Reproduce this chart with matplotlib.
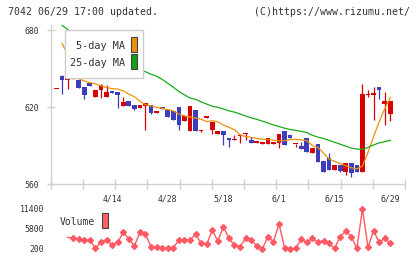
import matplotlib

matplotlib.use("Agg")
import matplotlib.pyplot as plt
import numpy as np
from matplotlib.patches import Rectangle

# daily candles, 3/31 .. 6/29 (61 trading days)
opens = [633.8, 644.4, 641.3, 648.3, 641.0, 635.3, 638.4, 628.1, 633.3, 628.1,
         632.5, 631.9, 621.0, 624.7, 621.5, 619.5, 620.8, 621.5, 615.6, 620.0,
         617.7, 616.9, 620.0, 609.1, 601.3, 617.7, 601.3, 611.4, 602.3, 599.0,
         601.3, 595.9, 594.3, 597.4, 598.7, 594.3, 592.3, 591.5, 591.2, 591.5,
         591.7, 601.3, 598.2, 590.9, 589.6, 595.9, 584.2, 591.2, 577.9, 580.3,
         570.9, 574.8, 569.6, 576.4, 574.8, 569.4, 629.5, 629.3, 635.6, 622.3,
         614.5]
highs = [634.3, 645.0, 648.3, 651.4, 641.0, 635.3, 638.4, 633.3, 637.7, 637.0,
         632.5, 631.9, 628.1, 624.7, 621.5, 621.5, 623.4, 621.5, 616.9, 620.0,
         617.7, 616.9, 620.0, 613.8, 620.8, 617.7, 601.8, 613.0, 608.3, 601.3,
         601.3, 595.9, 598.2, 598.2, 599.5, 596.6, 592.6, 591.8, 595.9, 592.5,
         599.0, 601.3, 598.2, 591.2, 592.5, 595.9, 588.1, 591.2, 577.9, 583.9,
         574.8, 574.8, 576.4, 576.4, 574.8, 637.9, 633.2, 635.6, 635.6, 631.7,
         624.7]
lows = [633.8, 630.1, 633.8, 641.8, 635.1, 626.0, 636.6, 628.1, 627.3, 628.1,
        630.6, 619.0, 621.0, 621.0, 617.4, 619.5, 602.1, 614.6, 615.6, 618.5,
        612.2, 610.1, 602.1, 609.1, 601.3, 601.3, 600.5, 611.4, 599.0, 599.0,
        590.4, 589.1, 594.3, 592.2, 594.3, 592.2, 592.3, 591.5, 591.2, 591.5,
        588.3, 590.4, 595.9, 589.1, 587.3, 585.0, 584.2, 577.1, 569.6, 570.9,
        570.9, 569.4, 567.0, 565.5, 569.4, 569.4, 627.5, 609.9, 626.2, 606.0,
        609.1]
closes = [634.3, 641.3, 648.3, 641.8, 635.1, 629.3, 636.6, 633.3, 637.1, 631.7,
          630.6, 629.3, 624.2, 621.0, 618.7, 621.5, 623.4, 615.6, 616.9, 618.5,
          612.2, 610.1, 606.0, 613.0, 620.8, 601.3, 601.8, 613.0, 608.3, 601.3,
          598.2, 594.3, 595.1, 598.2, 599.5, 592.2, 592.6, 591.8, 595.9, 591.8,
          599.0, 590.4, 595.9, 591.2, 587.3, 585.0, 588.1, 577.1, 569.6, 570.9,
          574.8, 570.1, 576.4, 568.6, 569.4, 630.1, 630.0, 630.9, 633.0, 624.7,
          624.7]

# moving averages as drawn (points 1 .. 60)
ma5 = [669.6, 661.0, 651.5, 642.0, 640.3, 639.0, 638.0, 636.5, 635.2, 634.3,
       634.0, 632.5, 630.0, 628.0, 624.5, 621.8, 620.8, 619.8, 619.0, 618.0,
       617.0, 614.5, 613.0, 612.3, 611.4, 610.5, 608.6, 609.3, 608.5, 606.0,
       604.2, 602.3, 598.4, 596.9, 596.4, 595.5, 595.0, 594.6, 594.2, 593.5,
       593.8, 594.6, 594.8, 594.3, 593.8, 590.0, 588.5, 584.0, 579.5, 577.5,
       576.0, 574.2, 572.6, 571.8, 574.0, 584.5, 597.0, 608.5, 618.5, 627.5]
ma25 = [683.5, 680.5, 677.5, 675.0, 672.5, 670.0, 667.5, 665.0, 663.0, 661.0,
        658.5, 656.0, 653.5, 651.0, 649.0, 647.5, 645.5, 644.0, 641.5, 638.5,
        635.5, 632.0, 629.5, 627.0, 626.0, 624.0, 622.3, 620.5, 619.8, 618.5,
        617.0, 616.0, 614.5, 613.0, 611.5, 610.4, 609.0, 607.5, 606.0, 604.8,
        603.5, 602.5, 601.8, 601.0, 600.0, 598.0, 596.5, 595.5, 594.0, 592.5,
        591.0, 589.5, 588.0, 587.2, 587.0, 588.5, 590.5, 592.0, 593.0, 594.0]

# volume (from day index 2)
volume = [3467, 3187, 2907, 2720, 2720, 387, 2253, 2720, 1320, 2067,
          4867, 3000, 1040, 4867, 4307, 853, 667, 387, 387, 573,
          2720, 2720, 2720, 4307, 1787, 1507, 5520, 2440, 6453, 3187,
          1320, 853, 3187, 2720, 1133, 150, 3653, 2253, 7200, 573,
          200, 387, 2907, 2067, 3187, 2067, 2533, 1787, 387, 3653,
          5240, 3653, 387, 11400, 667, 5333, 2067, 3187, 1787]

date_pos = [10, 20, 30, 40, 50, 60]
date_labels = ["4/14", "4/28", "5/18", "6/1", "6/15", "6/29"]
price_ticks = [560, 620, 680]
vol_ticks = [200, 5800, 11400]

RED = "#d60000"
BLUE = "#3c3cbc"
ORANGE = "#f0900c"
GREEN = "#1aaa1a"
VOLC = "#ff5a64"
AXC = "#d0d0d0"
TXT = "#333333"
MONO = "DejaVu Sans Mono"

W, H = 420, 259


def fx(px):
    return px / W


def fy(py):
    return 1 - py / H


fig = plt.figure(figsize=(W / 100, H / 100), dpi=100)
fig.patch.set_facecolor("white")

xlim = (-1.04, 62.65)

ax = fig.add_axes([fx(50.7), fy(184), fx(405) - fx(50.7), fy(25) - fy(184)])
ax.set_xlim(*xlim)
ax.set_ylim(560, 683.9)

o = np.array(opens)
c = np.array(closes)
idx = np.arange(len(o))
colors = [RED if cc >= oo else BLUE for oo, cc in zip(o, c)]
ax.vlines(idx, lows, highs, colors=colors, lw=0.9, zorder=2)
ax.bar(idx, np.maximum(np.abs(c - o), 0.9), bottom=np.minimum(o, c),
       width=0.85, color=colors, linewidth=0, zorder=2)

ma_x = np.arange(1, len(ma5) + 1)
ax.plot(ma_x, ma5, color=ORANGE, lw=0.9, zorder=3)
ax.plot(ma_x, ma25, color=GREEN, lw=0.9, zorder=3)

for s in ("top", "right"):
    ax.spines[s].set_visible(False)
for s in ("left", "bottom"):
    ax.spines[s].set_color(AXC)
    ax.spines[s].set_linewidth(1.0)

ax.set_xticks(np.linspace(xlim[0], xlim[1], 12))
ax.set_xticklabels([])
ax.set_xticks(date_pos, date_labels, minor=True)
ax.tick_params(axis="x", which="major", direction="inout", length=6.5,
               color=AXC, width=1.0)
ax.tick_params(axis="x", which="minor", length=0, pad=7.5,
               labelsize=5.9, labelcolor=TXT)
ax.set_yticks(price_ticks)
ax.tick_params(axis="y", direction="inout", length=5.4, color=AXC, width=1.0,
               pad=5.7, labelsize=5.9, labelcolor=TXT)
for lab in ax.get_xticklabels(minor=True) + ax.get_yticklabels():
    lab.set_family(MONO)

# legend box
fig.add_artist(Rectangle((fx(65), fy(77.7)), fx(143.3) - fx(65), fy(30) - fy(77.7),
                         transform=fig.transFigure, facecolor="white",
                         edgecolor="#cccccc", lw=1.0, zorder=5))
fig.text(fx(125.5), fy(45.7), "5-day MA", ha="right", va="center",
         fontsize=7.3, family=MONO, color=TXT, zorder=6)
fig.text(fx(125.5), fy(62.5), "25-day MA", ha="right", va="center",
         fontsize=7.3, family=MONO, color=TXT, zorder=6)
fig.add_artist(Rectangle((fx(131), fy(52.3)), 6.3 / W, 15 / H,
                         transform=fig.transFigure, facecolor=ORANGE,
                         edgecolor="#444444", lw=0.8, zorder=6))
fig.add_artist(Rectangle((fx(131), fy(69.3)), 6.3 / W, 15 / H,
                         transform=fig.transFigure, facecolor="#10a010",
                         edgecolor="#444444", lw=0.8, zorder=6))

# volume panel
vax = fig.add_axes([fx(50.7), fy(253), fx(405) - fx(50.7), fy(205) - fy(253)])
vax.set_xlim(*xlim)
vax.set_ylim(-920, 12520)
vax.patch.set_alpha(0)
for s in vax.spines.values():
    s.set_visible(False)
vax.set_xticks([])
vax.set_yticks(vol_ticks)
vax.tick_params(axis="y", length=0, pad=4.6, labelsize=5.9, labelcolor=TXT)
for lab in vax.get_yticklabels():
    lab.set_family(MONO)
vol_x = np.arange(2, 2 + len(volume))
vax.plot(vol_x, volume, color=VOLC, lw=1.0, marker="D", ms=3.0,
         markevery=slice(1, None), zorder=3)

fig.text(fx(59.3), fy(221.7), "Volume", ha="left", va="center",
         fontsize=7.0, family=MONO, color=TXT)
fig.add_artist(Rectangle((fx(101.7), fy(228.3)), 6 / W, 15 / H,
                         transform=fig.transFigure, facecolor="#ff6060",
                         edgecolor="#444444", lw=0.8, zorder=6))

fig.text(fx(8.3), fy(12), "7042 06/29 17:00 updated.", ha="left", va="center",
         fontsize=7.1, family=MONO, color=TXT)
fig.text(fx(409.5), fy(12), "(C)https://www.rizumu.net/", ha="right",
         va="center", fontsize=7.1, family=MONO, color=TXT)

fig.savefig("out.png", dpi=100, facecolor="white")
